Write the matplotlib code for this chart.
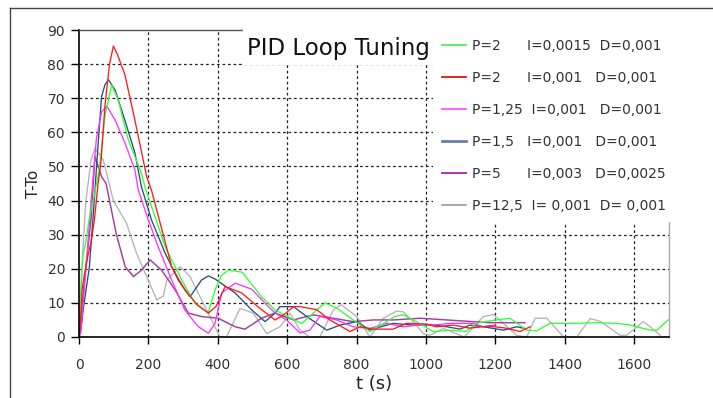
import matplotlib
matplotlib.use("Agg")
import matplotlib.pyplot as plt
from matplotlib.lines import Line2D
from matplotlib.patches import Rectangle

plt.rcParams['font.family'] = ['DejaVu Sans']

# ---- data ----
red_t = [0, 5, 9, 15, 25, 35, 44, 55, 63, 75, 88, 99, 110, 132, 161, 195, 209, 240, 267, 305, 340, 373, 395, 421, 469,
         520, 565, 590, 618, 637, 685, 723, 781, 810, 848, 905, 944, 1001, 1030, 1078, 1126, 1180, 1230, 1271, 1300]
red_y = [0, 5, 14, 18, 23.5, 28, 34, 45, 51, 68, 80, 85.3, 83, 77, 63.6, 47, 43, 31, 20.6, 13.8, 9.5, 7, 9, 14.8, 12.9,
         8.5, 5, 6.5, 8.9, 8.9, 8, 5, 1.6, 3, 2.3, 2.3, 4, 3.8, 3, 3.5, 2.6, 3.2, 2.6, 1.6, 3]

green_t = [0, 3, 11, 20, 30, 45, 58, 75, 94, 113, 142, 180, 190, 220, 248, 296, 334, 372, 392, 410, 430, 470, 526, 565,
           608, 642, 675, 709, 742, 790, 838, 887, 910, 934, 963, 1021, 1070, 1114, 1146, 1200, 1242, 1290, 1319, 1357,
           1420, 1492, 1550, 1588, 1645, 1665, 1700]
green_y = [0, 9, 23.5, 28, 35, 42, 49, 65, 73.9, 69.5, 57.8, 48, 44, 35, 26.5, 16.7, 9.9, 7, 13.8, 18, 19.6, 19, 11.8, 7.9,
           5.6, 4, 7, 10, 8.5, 5, 1.6, 4.5, 6, 6.5, 5, 1.6, 2, 1.6, 4, 5, 5.5, 2, 1.8, 4,
           4, 4.2, 4, 3.5, 2, 2, 5.2]

magenta_t = [0, 5, 20, 35, 50, 65, 80, 104, 132, 161, 171, 200, 228, 267, 305, 344, 373, 392, 411, 450, 498, 522, 546,
             565, 598, 637, 665, 694, 742, 790, 838, 887, 934, 980, 1021, 1070, 1136, 1165, 1200]
magenta_y = [0, 1, 20, 40, 58, 66, 67.7, 63.6, 57, 49, 43, 34.3, 26.5, 16.7, 7.9, 3, 1.1, 4, 12.9, 15.8, 14, 11.4, 8.9,
             7, 5, 1.2, 2, 6, 5, 3, 2.5, 4, 3, 3.5, 3.5, 4, 4, 3, 3.5]

blue_t = [0, 5, 12, 30, 44, 54, 65, 75, 85, 104, 132, 161, 180, 209, 248, 286, 320, 353, 373, 392, 450, 498, 536, 565,
          579, 618, 656, 714, 752, 800, 839, 870, 905, 960, 1021, 1060, 1098, 1127, 1165, 1223, 1261, 1285]
blue_y = [0, 2, 8, 20.6, 40, 55, 70.5, 74, 75.4, 72.4, 63.6, 54, 44, 34.3, 24.6, 16.7, 11.8, 16.7, 17.9, 17, 12.9, 7.9, 4.5,
          7, 8.9, 8.9, 6, 2, 3.5, 4.5, 2, 3, 4, 3.5, 3.5, 3, 2.3, 3.5, 3, 2, 3, 2.5]

purple_t = [0, 1, 15, 35, 46, 65, 78, 107, 133, 157, 180, 205, 238, 277, 315, 353, 401, 450, 478, 526, 565, 618, 675,
            733, 790, 848, 905, 982, 1060, 1136, 1184, 1285]
purple_y = [0, 2, 15.8, 35, 52.9, 47, 45, 30.4, 20.6, 17.7, 19.6, 22.6, 19.6, 13.8, 7, 6, 5.5, 3, 2.3, 5.5, 7, 5, 6.5,
            5.5, 4.5, 5, 5, 5.5, 5, 4.5, 4.2, 4.2]

grey_t = [0, 3, 11, 20, 35, 46, 70, 99, 137, 166, 195, 224, 243, 253, 291, 320, 368, 406, 425, 464, 502, 541, 579, 608,
          637, 665, 694, 733, 755, 800, 838, 877, 915, 934, 963, 992, 1011, 1050, 1110, 1165, 1194, 1223, 1261, 1290,
          1314, 1348, 1396, 1434, 1473, 1502, 1559, 1578, 1626, 1646, 1680, 1700]
grey_y = [0, 8, 25.5, 40, 52, 55.3, 51.9, 40, 33.3, 24.5, 17.7, 10.9, 12, 16.7, 20.6, 17.7, 7.9, 0, 0, 8.4, 7, 1, 3, 7,
          2, 0, 0, 7.9, 9.5, 6, 0, 5.5, 7.6, 7.4, 4.5, 1, 0.5, 2.5, 0, 6, 6.6, 4, 0.5, 0,
          5.5, 5.5, 0, 0, 5.4, 4.6, 0.5, 0.5, 4.5, 3, 0, 0]

legend_labels = ["P=2      I=0,0015  D=0,001",
                 "P=2      I=0,001   D=0,001",
                 "P=1,25  I=0,001   D=0,001",
                 "P=1,5   I=0,001   D=0,001",
                 "P=5      I=0,003   D=0,0025",
                 "P=12,5  I= 0,001  D= 0,001"]
legend_colors = ['#44ee44', '#dd0000', '#ff44ff', '#6880a0', '#b030b0', '#999999']
legend_widths = [1.2, 1.2, 1.2, 2.0, 1.4, 1.2]

x_ticks = [0, 200, 400, 600, 800, 1000, 1200, 1400, 1600]
y_ticks = [0, 10, 20, 30, 40, 50, 60, 70, 80, 90]

W, H = 713, 398
fig = plt.figure(figsize=(W / 100, H / 100), dpi=100)
ax = fig.add_axes([79 / W, 1 - 337 / H, (669 - 79) / W, (337 - 30) / H])

ax.plot(grey_t, grey_y, color='#b4b4b4', lw=0.95)
ax.plot(purple_t, purple_y, color='#a040a0', lw=1.05)
ax.plot(blue_t, blue_y, color='#23507e', lw=0.95)
ax.plot(magenta_t, magenta_y, color='#ff33ff', lw=0.95)
ax.plot(green_t, green_y, color='#33ff33', lw=0.95)
ax.plot(red_t, red_y, color='#ff1a1a', lw=0.95)

ax.set_xlim(0, 1700)
ax.set_ylim(0, 90)
ax.set_xticks(x_ticks)
ax.set_yticks(y_ticks)
ax.grid(True, color='#222222', linestyle=(0, (2.2, 2.2)), linewidth=0.9)
ax.yaxis.get_gridlines()[-1].set_visible(False)
ax.yaxis.get_gridlines()[0].set_visible(False)
ax.xaxis.get_gridlines()[0].set_visible(False)

for s in ['left', 'bottom']:
    ax.spines[s].set_color('black')
    ax.spines[s].set_linewidth(1.2)
ax.spines['top'].set_color('#555555')
ax.spines['top'].set_linewidth(1.0)
ax.spines['right'].set_color('#aaaaaa')
ax.spines['right'].set_linewidth(1.0)

ax.tick_params(axis='y', direction='out', length=6, width=1, pad=4, labelsize=10, labelcolor='#333333')
ax.tick_params(axis='x', direction='out', length=5, width=1, pad=10, labelsize=10, labelcolor='#333333')

ax.set_xlabel('t (s)', fontsize=13, color='#222222', labelpad=2)
ax.set_ylabel('T-To', fontsize=11, color='#222222', labelpad=5)

# white boxes behind title and legend
fig.add_artist(Rectangle((243 / W, 1 - 65 / H), (W - 243) / W, (65 - 12) / H, transform=fig.transFigure,
                         facecolor='white', edgecolor='none', zorder=5))
fig.add_artist(Rectangle((433 / W, 1 - 222 / H), (W - 433) / W, (222 - 12) / H, transform=fig.transFigure,
                         facecolor='white', edgecolor='none', zorder=5))

# outer frame
fig.add_artist(Line2D([10 / W, 10 / W], [0, 1 - 8 / H], transform=fig.transFigure, color='#444444', lw=1.0, zorder=6))
fig.add_artist(Line2D([10 / W, 1], [1 - 8 / H, 1 - 8 / H], transform=fig.transFigure, color='#444444', lw=1.0, zorder=6))

fig.text(247 / W, 1 - 48 / H, 'PID Loop Tuning', fontsize=16.5, color='#111111', ha='left', va='center', zorder=7)

handles = [Line2D([], [], color=c, lw=w) for c, w in zip(legend_colors, legend_widths)]
leg = fig.legend(handles, legend_labels, loc='upper left', bbox_to_anchor=(442 / W, 1 - 39 / H),
                 frameon=False, fontsize=10, handlelength=1.75, handletextpad=0.38, labelspacing=1.29,
                 borderpad=0, borderaxespad=0, labelcolor='#333333')
leg.set_zorder(8)

fig.savefig('out.png', dpi=100)
